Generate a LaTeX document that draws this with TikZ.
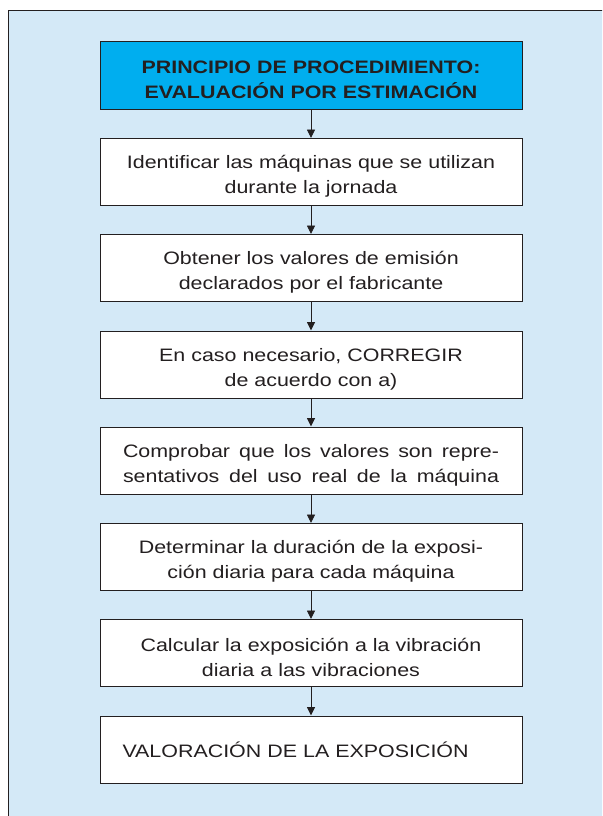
\documentclass[tikz,border=0pt]{standalone}
\usepackage{fontspec}
\setmainfont{Liberation Sans}[FakeStretch=1.19]
\usetikzlibrary{arrows.meta}
\definecolor{bgblue}{RGB}{212,233,247}
\definecolor{headcyan}{RGB}{0,174,239}
\definecolor{ink}{RGB}{35,31,32}
\newcommand{\justline}[1]{\makebox[376pt][s]{\spaceskip=0.28em plus 1fil\relax #1}}
\newcommand{\topstrut}{\rule{0pt}{22pt}}
\tikzset{
  stepbox/.style={draw=ink, line width=1pt, fill=white, minimum width=422pt, minimum height=67pt,
    text width=410pt, align=center, inner sep=0pt, font=\fontsize{18}{25}\selectfont, text=ink},
  headbox/.style={stepbox, fill=headcyan, font=\fontsize{18}{25}\bfseries\selectfont},
  flowarrow/.style={draw=ink, line width=0.9pt, -{Triangle[length=8.5pt,width=8pt]}}
}
\begin{document}
\begin{tikzpicture}[x=1pt,y=-1pt]
\useasboundingbox (0,0) rectangle (602,816);
\clip (0,0) rectangle (602,816);
\fill[bgblue] (8.5,10.5) rectangle (620,830);
\draw[ink, line width=1.2pt] (8.5,830) -- (8.5,10.5) -- (620,10.5);
\node[headbox] (n1) at (311,75.5) {\topstrut PRINCIPIO DE PROCEDIMIENTO:\\EVALUACIÓN POR ESTIMACIÓN};
\node[stepbox] (n2) at (311,172) {\topstrut Identificar las máquinas que se utilizan\\durante la jornada};
\node[stepbox] (n3) at (311,268) {\topstrut Obtener los valores de emisión\\declarados por el fabricante};
\node[stepbox] (n4) at (311,364.5) {\topstrut En caso necesario, CORREGIR\\de acuerdo con a)};
\node[stepbox] (n5) at (311,460.5) {\topstrut\justline{Comprobar que los valores son repre-}\\\justline{sentativos del uso real de la máquina}};
\node[stepbox] (n6) at (311,557) {\topstrut Determinar la duración de la exposi-\\ción diaria para cada máquina};
\node[stepbox] (n7) at (311,653) {\topstrut Calcular la exposición a la vibración\\diaria a las vibraciones};
\node[stepbox, text width=399pt, align=left] (n8) at (311,749.5) {\hspace*{11pt}VALORACIÓN DE LA EXPOSICIÓN};
\draw[flowarrow] (n1) -- (n2);
\draw[flowarrow] (n2) -- (n3);
\draw[flowarrow] (n3) -- (n4);
\draw[flowarrow] (n4) -- (n5);
\draw[flowarrow] (n5) -- (n6);
\draw[flowarrow] (n6) -- (n7);
\draw[flowarrow] (n7) -- (n8);
\end{tikzpicture}
\end{document}
